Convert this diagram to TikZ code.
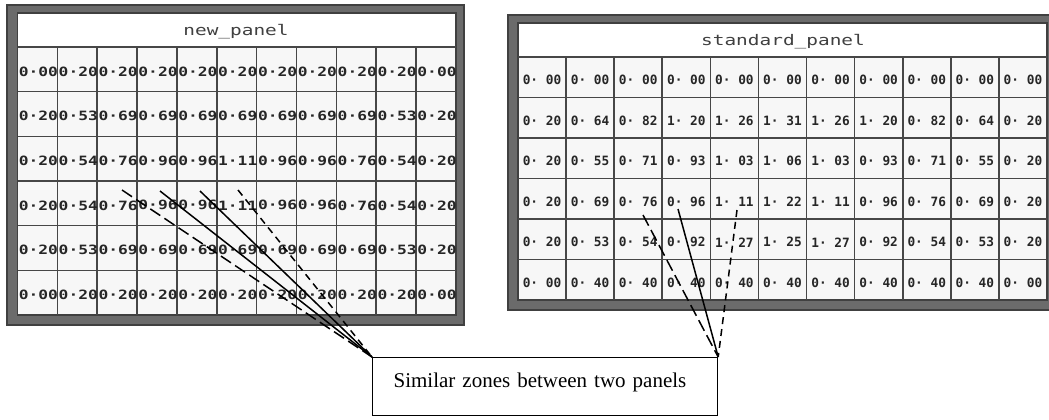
\documentclass[tikz,border=0pt]{standalone}
\usepackage{fontspec}
\usepackage{graphicx}
\setmainfont{Liberation Serif}
\newfontfamily\pixfont{DejaVu Sans Mono}
\usetikzlibrary{positioning}

\begin{document}
\begin{tikzpicture}[x=0.5pt,y=-0.5pt,
  frame/.style={fill=black!58, draw=black!75, line width=0.6pt},
  gridline/.style={draw=black!72, line width=0.8pt},
  cell/.style={font=\pixfont\bfseries\fontsize{6.4}{7}\selectfont, text=black!85, inner sep=0pt},
  title/.style={font=\pixfont\fontsize{7.3}{8}\selectfont, text=black!75, inner sep=0pt},
  note/.style={draw, line width=0.6pt, font=\fontsize{10.5}{12}\selectfont, text width=151.5pt, inner xsep=10.5pt, minimum height=29pt, text depth=6pt, align=left}]
        \tikzstyle{solidlink} = [line width=0.75pt]
        \tikzstyle{longdash} = [line width=0.75pt, dash pattern=on 6pt off 2.5pt]
        \tikzstyle{shortdash} = [line width=0.75pt, dash pattern=on 3.5pt off 2.5pt]
        \clip (0,0) rectangle (1049,419);

        \fill[frame] (7,5) rectangle (464,325);
        \fill[black!3] (17.5,13) rectangle (456,315);
        \fill[white] (17.5,13) rectangle (456,47);
        \draw[black!75, line width=0.6pt] (17.5,13) rectangle (456,315);
        \foreach \k in {0,...,5}
            \draw[gridline] (17.5,{47+44.67*\k}) -- (456,{47+44.67*\k});
        \foreach \k in {1,...,10}
            \draw[gridline] ({17.5+39.86*\k},47) -- ({17.5+39.86*\k},315);
        \node[title] (newname) at (236,32) {\scalebox{1.33}[1]{new\_panel}};
        \foreach \row [count=\r] in {
            {0·00,0·20,0·20,0·20,0·20,0·20,0·20,0·20,0·20,0·20,0·00},
            {0·20,0·53,0·69,0·69,0·69,0·69,0·69,0·69,0·69,0·53,0·20},
            {0·20,0·54,0·76,0·96,0·96,1·11,0·96,0·96,0·76,0·54,0·20},
            {0·20,0·54,0·76,0·96,0·96,1·11,0·96,0·96,0·76,0·54,0·20},
            {0·20,0·53,0·69,0·69,0·69,0·69,0·69,0·69,0·69,0·53,0·20},
            {0·00,0·20,0·20,0·20,0·20,0·20,0·20,0·20,0·20,0·20,0·00}}{
            \foreach \v [count=\c] in \row
                \node[cell] (new-\r-\c) at ({18.5+39.86*(\c-0.5)},{49+44.67*(\r-0.5)}) {\scalebox{1.27}[1]{\v}};
        }

        \fill[frame] (508,15) rectangle (1056,310);
        \fill[black!3] (518,23) rectangle (1047,300);
        \fill[white] (518,23) rectangle (1047,57);
        \draw[black!75, line width=0.6pt] (518,23) rectangle (1047,300);
        \foreach \k in {0,...,5}
            \draw[gridline] (518,{57+40.5*\k}) -- (1047,{57+40.5*\k});
        \foreach \k in {1,...,10}
            \draw[gridline] ({518+48.09*\k},57) -- ({518+48.09*\k},300);
        \node[title] (stdname) at (783,42) {\scalebox{1.33}[1]{standard\_panel}};
        \foreach \row [count=\r] in {
            {0· 00,0· 00,0· 00,0· 00,0· 00,0· 00,0· 00,0· 00,0· 00,0· 00,0· 00},
            {0· 20,0· 64,0· 82,1· 20,1· 26,1· 31,1· 26,1· 20,0· 82,0· 64,0· 20},
            {0· 20,0· 55,0· 71,0· 93,1· 03,1· 06,1· 03,0· 93,0· 71,0· 55,0· 20},
            {0· 20,0· 69,0· 76,0· 96,1· 11,1· 22,1· 11,0· 96,0· 76,0· 69,0· 20},
            {0· 20,0· 53,0· 54,0· 92,1· 27,1· 25,1· 27,0· 92,0· 54,0· 53,0· 20},
            {0· 00,0· 40,0· 40,0· 40,0· 40,0· 40,0· 40,0· 40,0· 40,0· 40,0· 00}}{
            \foreach \v [count=\c] in \row
                \node[cell] (std-\r-\c) at ({518+48.09*(\c-0.5)},{60+40.5*(\r-0.5)}) {\v};
        }

        \node[note, anchor=north west] (zones) at (372,357) {Similar zones between two panels};

        \coordinate (l1) at (122,190);
        \coordinate (l2) at (160,191);
        \coordinate (l3) at (200,191);
        \coordinate (l4) at (238,190);
        \coordinate (r1) at (643,215);
        \coordinate (r2) at (678,209);
        \coordinate (r3) at (737,210);

        \draw [longdash] (l1) -- (zones.north west);
        \draw [solidlink] (l2) -- (zones.north west);
        \draw [solidlink] (l3) -- (zones.north west);
        \draw [shortdash] (l4) -- (zones.north west);
        \draw [longdash] (r1) -- (zones.north east);
        \draw [solidlink] (r2) -- (zones.north east);
        \draw [shortdash] (r3) -- (zones.north east);
\end{tikzpicture}
\end{document}
